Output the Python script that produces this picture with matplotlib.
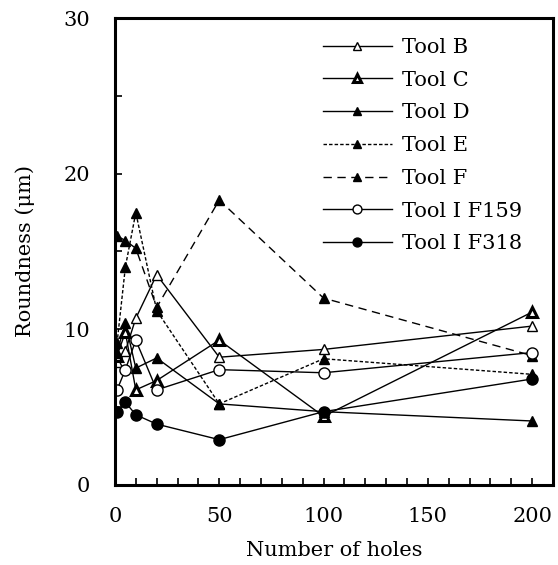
import matplotlib
matplotlib.use("Agg")
import matplotlib.pyplot as plt
from matplotlib.ticker import MultipleLocator

plt.rcParams['font.family'] = ['DejaVu Serif']

# hole counts where roundness was measured
holes = [1, 5, 10, 20, 50, 100, 200]

# roundness in µm
tool_b = [7.9, 8.6, 10.7, 13.5, 8.2, 8.7, 10.2]
tool_c = [8.3, 9.8, 6.1, 6.7, 9.3, 4.4, 11.1]
tool_d = [8.5, 10.4, 7.5, 8.15, 5.2, 4.7, 4.1]
tool_e = [9.1, 14.0, 17.5, 11.2, 5.2, 8.1, 7.1]
tool_f = [16.0, 15.7, 15.2, 11.4, 18.3, 12.0, 8.3]
tool_i_f159 = [6.1, 7.4, 9.3, 6.1, 7.4, 7.2, 8.5]
tool_i_f318 = [4.7, 5.3, 4.5, 3.9, 2.9, 4.7, 6.8]

fig = plt.figure(figsize=(5.58, 5.65), dpi=100)
ax = fig.add_axes([0.206, 0.142, 0.785, 0.826])

lw = 1.0
ms = 7
ax.plot(holes, tool_b, color='black', lw=lw, marker='^', ms=ms, mfc='white', mec='black', mew=1.0, label='Tool B')
ax.plot(holes, tool_c, color='black', lw=lw, marker='^', ms=ms, mfc='white', mec='black', mew=2.2, label='Tool C')
ax.plot(holes, tool_d, color='black', lw=lw, marker='^', ms=ms, mfc='black', mec='black', label='Tool D')
ax.plot(holes, tool_e, color='black', lw=lw, ls=(0, (2.5, 1.5)), marker='^', ms=ms, mfc='black', mec='black', label='Tool E')
ax.plot(holes, tool_f, color='black', lw=lw, ls=(0, (6, 4)), marker='^', ms=ms, mfc='black', mec='black', label='Tool F')
ax.plot(holes, tool_i_f159, color='black', lw=lw, marker='o', ms=ms + 1, mfc='white', mec='black', mew=1.0, label='Tool I F159')
ax.plot(holes, tool_i_f318, color='black', lw=lw, marker='o', ms=ms + 1, mfc='black', mec='black', label='Tool I F318')

ax.set_xlim(0, 210)
ax.set_ylim(0, 30)
ax.xaxis.set_major_locator(MultipleLocator(50))
ax.xaxis.set_minor_locator(MultipleLocator(10))
ax.yaxis.set_major_locator(MultipleLocator(10))
ax.yaxis.set_minor_locator(MultipleLocator(5))

ax.tick_params(which='both', direction='in', width=1.2, length=5, labelsize=15)
ax.tick_params(axis='x', which='both', pad=16)
ax.tick_params(axis='y', which='both', pad=18)
for s in ax.spines.values():
    s.set_linewidth(2.2)

ax.set_xlabel('Number of holes', fontsize=15, labelpad=11)
ax.set_ylabel('Roundness (μm)', fontsize=15, labelpad=20)

ax.legend(loc='upper right', frameon=False, fontsize=15, handlelength=3.3,
          labelspacing=0.66, handletextpad=0.5, borderaxespad=0.55,
          markerscale=0.8, bbox_to_anchor=(0.975, 1.0))

fig.savefig('out.png', dpi=100)
